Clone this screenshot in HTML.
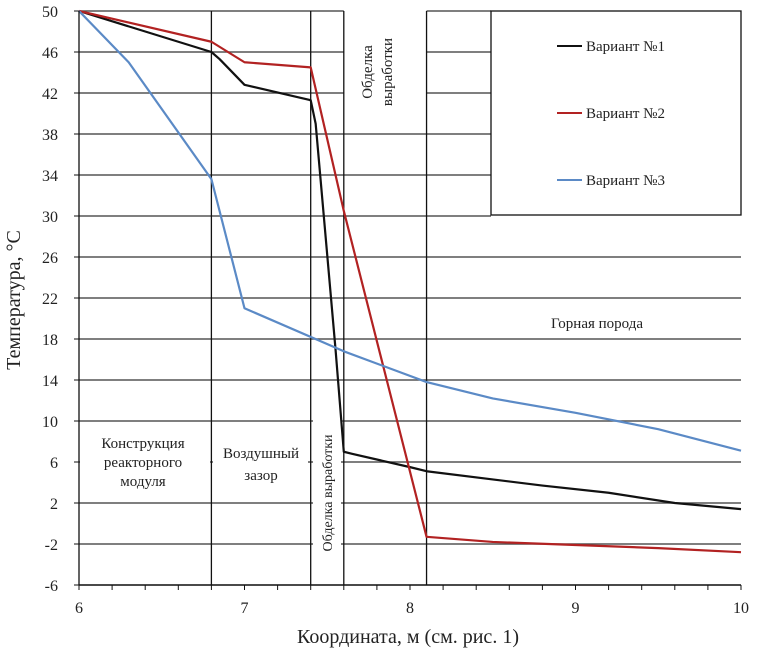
<!DOCTYPE html>
<html><head><meta charset="utf-8"><style>
body{margin:0;background:#fff;overflow:hidden}
svg text{font-family:"Liberation Serif",serif;fill:#222}
</style></head><body>
<svg width="761" height="651" xmlns="http://www.w3.org/2000/svg">
<g id="grid"></g>
<g id="ann"></g>
<g id="series"></g>
<g id="axes"></g>
<text x="20" y="300" font-size="20" text-anchor="middle" transform="rotate(-90 20 300)">Температура, °С</text>
<text x="408" y="643" font-size="20" text-anchor="middle">Координата, м (см. рис. 1)</text>
</svg>
<script>
const xTicks=[6,7,8,9,10];
const yTicks=[50,46,42,38,34,30,26,22,18,14,10,6,2,-2,-6];
const boundaries=[6.8,7.4,7.6,8.1];
const seriesNames=["Вариант №1","Вариант №2","Вариант №3"];
const seriesColors=["#111","#b22222","#5b8ac6"];
const s1x=[6,6.3,6.8,6.85,7.0,7.4,7.43,7.55,7.6,7.65,8.0,8.1,8.5,8.8,9.2,9.6,10];
const s1y=[50,48.5,46,45.3,42.8,41.3,39,17,7,6.8,5.5,5.1,4.3,3.7,3.0,2.0,1.4];
const s2x=[6,6.8,7.0,7.4,7.6,8.1,8.5,9,9.5,10];
const s2y=[50,47,45,44.5,30.5,-1.3,-1.8,-2.1,-2.4,-2.8];
const s3x=[6,6.3,6.8,7.0,7.6,8.1,8.5,9,9.5,10];
const s3y=[50,45,33.6,21,16.8,13.8,12.2,10.8,9.2,7.1];
const NS="http://www.w3.org/2000/svg";
const X=v=>79+(v-6)*165.5, Y=v=>11+(50-v)*10.25;
function mk(tag,attrs,parent,txt){const e=document.createElementNS(NS,tag);for(const k in attrs)e.setAttribute(k,attrs[k]);if(txt!==undefined)e.textContent=txt;document.getElementById(parent).appendChild(e);return e;}
yTicks.forEach(t=>{
  const y=Y(t);
  const segs=[];
  if(t>38){segs.push([X(6),X(7.6)]);segs.push([X(8.1),(t>=30?491:X(10))]);}
  else if(t>=30){segs.push([X(6),491]);}
  else segs.push([X(6),X(10)]);
  segs.forEach(s=>{const l=mk('line',{x1:s[0],x2:s[1],y1:y,y2:y,stroke:'#555','stroke-width':1.5},'grid');
  });
  const tl=mk('text',{x:58,y:y+6,'font-size':16,'text-anchor':'end'},'axes',String(t));
  
});
boundaries.forEach(b=>{const l=mk('line',{x1:X(b),x2:X(b),y1:Y(50),y2:Y(-6),stroke:'#111','stroke-width':1.3},'grid');
});
[[80,432,130,60],[213,442,95,45],[313,398,28,185],[494,312,245,22]].forEach(r=>{const e=mk('rect',{x:r[0],y:r[1],width:r[2],height:r[3],fill:'#fff'},'ann');
});
const lb=mk('rect',{x:491,y:11,width:250,height:204,fill:'#fff',stroke:'#111','stroke-width':1.3},'ann');

seriesNames.forEach((n,i)=>{const y=46+i*67;
const l=mk('line',{x1:557,x2:582,y1:y,y2:y,stroke:seriesColors[i],'stroke-width':2},'ann');

const t=mk('text',{x:586,y:y+5,'font-size':15},'ann',n);
});
function lab(x,y,txt,size,rot,name){const t=mk('text',{x:x,y:y,'font-size':size,'text-anchor':'middle'},'ann',txt);if(rot)t.setAttribute('transform','rotate(-90 '+x+' '+y+')');
}
lab(143,448,"Конструкция",15,0,'zone-label-reactor');lab(143,467,"реакторного",15,0,'zone-label-reactor');lab(143,486,"модуля",15,0,'zone-label-reactor');
lab(261,458,"Воздушный",15,0,'zone-label-air-gap');lab(261,480,"зазор",15,0,'zone-label-air-gap');
lab(332,493,"Обделка выработки",14,1,'zone-label-lining');
lab(372,72,"Обделка",15,1,'zone-label-lining-top');lab(392,72,"выработки",15,1,'zone-label-lining-top');
lab(597,328,"Горная порода",15,0,'zone-label-rock');
const ax=mk('line',{x1:X(6),x2:X(10),y1:Y(-6),y2:Y(-6),stroke:'#111','stroke-width':1.3},'axes');
const ay=mk('line',{x1:X(6),x2:X(6),y1:Y(50),y2:Y(-6),stroke:'#111','stroke-width':1.3},'axes');
for(let v=6;v<=10.001;v+=0.2){const tk=mk('line',{x1:X(v),x2:X(v),y1:Y(-6),y2:Y(-6)+5,stroke:'#111'},'axes');}
yTicks.forEach(t=>{const tk=mk('line',{x1:X(6)-5,x2:X(6),y1:Y(t),y2:Y(t),stroke:'#111'},'axes');});
xTicks.forEach(t=>{const tl=mk('text',{x:X(t),y:Y(-6)+28,'font-size':16,'text-anchor':'middle'},'axes',String(t));});
[[s1x,s1y],[s2x,s2y],[s3x,s3y]].forEach((s,i)=>{const pts=s[0].map((x,j)=>X(x)+','+Y(s[1][j])).join(' ');
const p=mk('polyline',{points:pts,fill:'none',stroke:seriesColors[i],'stroke-width':2.2,'stroke-linejoin':'round'},'series');
});
</script>
</body></html>
